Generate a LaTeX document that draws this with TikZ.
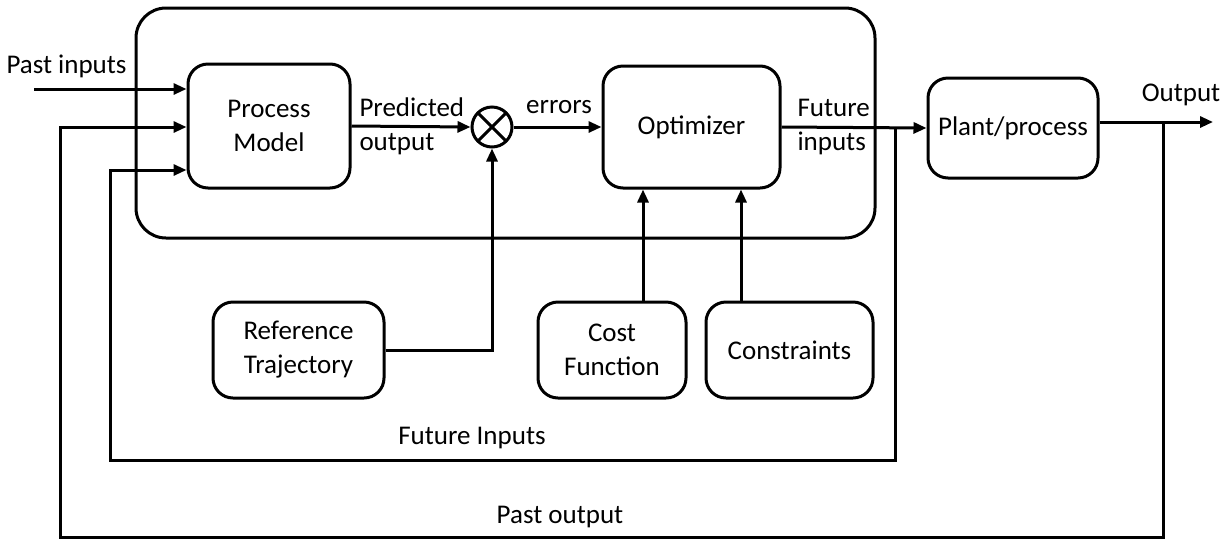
\documentclass[tikz,border=0pt]{standalone}
\usepackage{fontspec}
\setmainfont{Carlito}
\usetikzlibrary{arrows.meta,calc}
\begin{document}
\begin{tikzpicture}[x=1pt,y=-1pt,
  line width=3pt,
  every node/.style={font=\fontsize{27}{34}\selectfont},
  blk/.style={draw,rounded corners=20pt,inner sep=0pt,align=center},
  lbl/.style={inner sep=0pt,align=left},
  arr/.style={-{Triangle[length=13pt,width=11pt]}}]
\useasboundingbox (0,0) rectangle (1229,542);
% big container
\draw[rounded corners=30pt] (136,8) rectangle (875,238);
% blocks
\node[blk,minimum width=162pt,minimum height=124pt] (pm) at (269,126) {Process\\Model};
\node[blk,minimum width=177pt,minimum height=122pt] (opt) at (691.5,127) {Optimizer};
\node[blk,minimum width=170pt,minimum height=100pt] (plant) at (1013,128) {Plant/process};
\node[blk,minimum width=171pt,minimum height=96pt] (ref) at (298.5,350) {Reference\\Trajectory};
\node[blk,minimum width=148pt,minimum height=96pt] (cost) at (612,350) {Cost\\Function};
\node[blk,minimum width=167pt,minimum height=96pt] (cons) at (789.5,350) {Constraints};
\node[draw,circle,minimum size=40pt,inner sep=0pt] (sum) at (492,127) {};
\draw ($(sum.center)+(-14,-14)$) -- ($(sum.center)+(14,14)$);
\draw ($(sum.center)+(14,-14)$) -- ($(sum.center)+(-14,14)$);
% labels
\node[lbl,anchor=west] (tpi) at (5,66) {Past inputs};
\node[lbl,anchor=west] (tpred) at (358,126) {Predicted\\output};
\node[lbl] (terr) at (559,107) {errors};
\node[lbl,anchor=west] (tfi) at (796,127) {Future\\inputs};
\node[lbl] (tout) at (1181,95) {Output};
\node[lbl] (tfut) at (472,438) {Future Inputs};
\node[lbl] (tpo) at (560,517) {Past output};
% coordinates
\coordinate (pistart) at (34,89);
\coordinate (fij) at (895,127);
\coordinate (oj) at (1163,122);
\coordinate (oend) at (1213,122);
% connectors
\draw[arr] (pistart) -- (pistart -| pm.west);
\draw[arr] (pm.east) -- (sum.west);
\draw[arr] (sum.east) -- (opt.west);
\draw[arr] (opt.east) -- (plant.west);
\draw[arr] (oj -| plant.east) -- (oend);
\draw[arr] (ref.east) -| (sum.south);
\draw[arr] (cost.north -| 643,0) -- (opt.south -| 643,0);
\draw[arr] (cons.north -| 741,0) -- (opt.south -| 741,0);
\draw[arr] (fij) -- (895,460) -- (110,460) -- (110,170) -- (pm.west |- 0,170);
\draw[arr] (oj) -- (1163,537) -- (60,537) -- (60,127) -- (pm.west |- 0,127);
\end{tikzpicture}
\end{document}
